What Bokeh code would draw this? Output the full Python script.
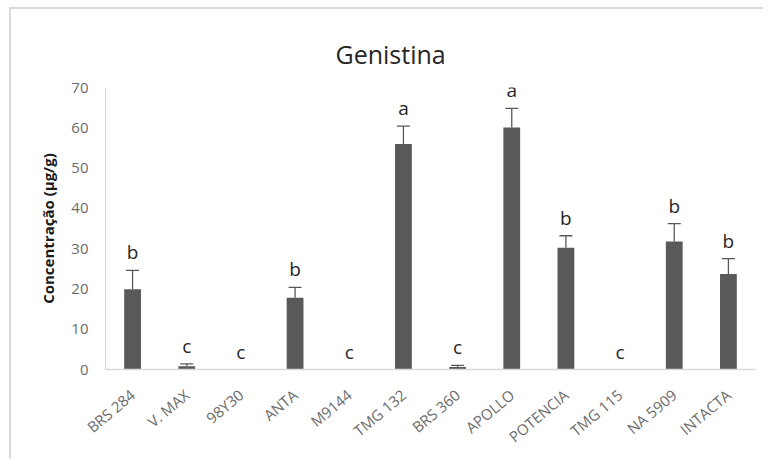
from bokeh.plotting import figure
from bokeh.models import ColumnDataSource, Whisker, TeeHead, FixedTicker
from bokeh.core.properties import value
from bokeh.embed import file_html
from bokeh.resources import INLINE

cultivars = ["BRS 284", "V. MAX", "98Y30", "ANTA", "M9144", "TMG 132",
             "BRS 360", "APOLLO", "POTENCIA", "TMG 115", "NA 5909", "INTACTA"]
means = [19.9, 0.8, 0.0, 17.8, 0.0, 56.0, 0.6, 60.1, 30.2, 0.0, 31.8, 23.7]
errors = [4.7, 0.6, 0.0, 2.6, 0.0, 4.4, 0.4, 4.7, 3.0, 0.0, 4.4, 3.8]
letters = ["b", "c", "c", "b", "c", "a", "c", "a", "b", "c", "b", "b"]
y_ticks = [0, 10, 20, 30, 40, 50, 60, 70]

FONT = "Open Sans"
BAR = "#595959"
GRAY_TXT = "#6b6b6b"
AXIS_LINE = "#d9d9d9"

src = ColumnDataSource(dict(
    cat=cultivars, mean=means, err=errors,
    top=[m + e for m, e in zip(means, errors)], letter=letters,
))
wsrc = ColumnDataSource(dict(
    cat=[c for c, e in zip(cultivars, errors) if e > 0],
    lower=[m for m, e in zip(means, errors) if e > 0],
    upper=[m + e for m, e in zip(means, errors) if e > 0],
))

p = figure(x_range=cultivars, y_range=(0, 70), width=763, height=459,
           output_backend="svg", toolbar_location=None,
           min_border_left=105, min_border_right=8,
           min_border_top=87, min_border_bottom=90)

# light chart-area border (left and top edges), drawn as CSS background
p.styles = {
    "background-image": "linear-gradient(#d9d9d9, #d9d9d9), linear-gradient(#d9d9d9, #d9d9d9)",
    "background-size": "2px 100%, 100% 2px",
    "background-position": "9px 7px, 9px 7px",
    "background-repeat": "no-repeat",
}
p.border_fill_alpha = 0

p.outline_line_color = None
p.background_fill_color = "white"
p.xgrid.grid_line_color = None
p.ygrid.grid_line_color = None
p.x_range.range_padding = 0

p.vbar(x="cat", top="mean", bottom=0, width=0.31, source=src,
       fill_color=BAR, line_color=None)

wh = Whisker(base="cat", lower="lower", upper="upper", source=wsrc,
             line_color=BAR, line_width=1.3,
             upper_head=TeeHead(size=13, line_color=BAR, line_width=1.3),
             lower_head=None)
p.add_layout(wh)

p.text(x="cat", y="top", text="letter", source=src,
       text_font=value(FONT), text_font_size="19px", text_color="#262626",
       text_align="center", text_baseline="middle", y_offset=-18)

# title
p.title.text = "Genistina"
p.title.text_font = FONT
p.title.text_font_size = "25px"
p.title.text_font_style = "normal"
p.title.text_color = "#262626"
p.title.align = "left"
p.title.offset = 230
p.title.standoff = 34

# y axis
ya = p.yaxis[0]
ya.ticker = FixedTicker(ticks=y_ticks)
ya.axis_line_color = AXIS_LINE
ya.major_tick_line_color = None
ya.minor_tick_line_color = None
ya.major_tick_out = 0
ya.major_tick_in = 0
ya.major_label_standoff = 17
ya.major_label_text_font = FONT
ya.major_label_text_font_size = "15px"
ya.major_label_text_color = GRAY_TXT
ya.axis_label = "Concentração (µg/g)"
ya.axis_label_text_font = FONT
ya.axis_label_text_font_size = "15px"
ya.axis_label_text_font_style = "bold"
ya.axis_label_text_color = "#1a1a1a"
ya.axis_label_standoff = 10

# x axis
xa = p.xaxis[0]
xa.axis_line_color = AXIS_LINE
xa.axis_line_width = 1.5
xa.major_tick_line_color = None
xa.minor_tick_line_color = None
xa.major_tick_out = 0
xa.major_tick_in = 0
xa.major_label_orientation = 0.698
xa.major_label_standoff = 23
xa.major_label_text_font = FONT
xa.major_label_text_font_size = "15px"
xa.major_label_text_color = GRAY_TXT

open("out.html", "w").write(file_html(p, INLINE))
